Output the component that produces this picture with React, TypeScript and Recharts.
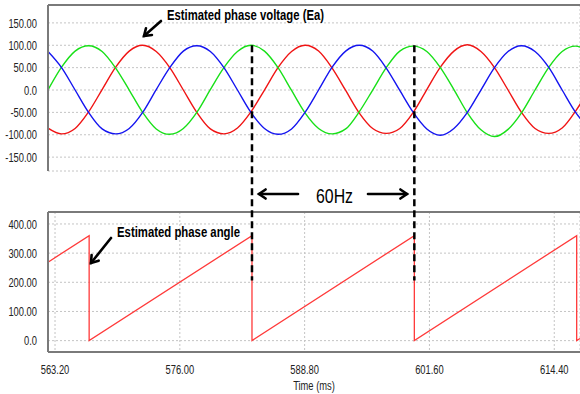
import React from "react";
import {
  LineChart,
  Line,
  CartesianGrid,
  XAxis,
  YAxis,
  ReferenceLine,
  Label,
} from "recharts";

// sample times (ms) for the three phase voltages
const timeMs = [
  562.48, 563.87, 565.26, 566.64, 568.03, 569.42, 570.81, 572.19, 573.58, 574.97,
  576.36, 577.74, 579.13, 580.52, 581.91, 583.29, 584.68, 586.07, 587.46, 588.84,
  590.23, 591.62, 593.01, 594.39, 595.78, 597.17, 598.56, 599.94, 601.33, 602.72,
  604.11, 605.49, 606.88, 608.27, 609.66, 611.04, 612.43, 613.82, 615.21, 616.59,
  617.98,
];

// red
const voltageA = [
  -85, -98, -86, -49, 1, 51, 87, 100, 86, 50, 0, -50,
  -87, -98, -85, -49, 0, 50, 86, 100, 87, 49, -1, -51,
  -86, -97, -86, -50, 1, 51, 87, 101, 86, 50, 0, -50,
  -86, -97, -85, -47, 2,
];

// blue
const voltageB = [
  86, 50, 0, -50, -87, -98, -86, -50, 1, 50, 87, 99,
  86, 50, 0, -50, -86, -99, -87, -50, 0, 51, 87, 100,
  87, 49, -1, -50, -87, -101, -86, -50, 0, 50, 86, 99,
  86, 51, 0, -50, -87,
];

// green
const voltageC = [
  0, 51, 87, 99, 86, 49, 0, -50, -87, -99, -86, -50,
  1, 50, 86, 100, 87, 50, -1, -51, -86, -98, -87, -49,
  0, 50, 87, 98, 86, 50, 1, -51, -89, -104, -88, -51,
  0, 50, 86, 98, 87,
];

// estimated phase angle (sawtooth)
const angleTime = [562.48, 566.7, 566.7, 583.4, 583.4, 600.05, 600.05, 616.7, 616.7, 617.04];
const angleDeg = [269, 360, 0, 360, 0, 360, 0, 360, 0, 7];

const xTicks = [563.2, 576, 588.8, 601.6, 614.4];
const voltTicks = [-150, -100, -50, 0, 50, 100, 150];
const angleTicks = [0, 100, 200, 300, 400];
const periodMarks = [583.4, 600.05];

const voltData = timeMs.map((t, i) => ({
  t,
  a: voltageA[i],
  b: voltageB[i],
  c: voltageC[i],
}));
const angleData = angleTime.map((t, i) => ({ t, deg: angleDeg[i] }));

const X_DOMAIN: [number, number] = [562.48, 617.04];
const FONT = "'Liberation Sans', Arial, sans-serif";
const SQUEEZE = 0.72;
const frame = { stroke: "#7a7a7a", strokeWidth: 2 };
const fmt = (v: number) => (v === 0 ? "0.0" : v.toFixed(2));

// condensed text, squeezed horizontally around its anchor
const Narrow = ({ x, y, anchor, dy, size = 13, children }: any) => (
  <text
    x={x}
    y={y}
    dy={dy}
    textAnchor={anchor}
    fontSize={size}
    fontFamily={FONT}
    fill="#222"
    transform={`translate(${x},0) scale(${SQUEEZE},1) translate(${-x},0)`}
  >
    {children}
  </text>
);

const YTick = ({ x, y, payload }: any) => (
  <Narrow x={x} y={y} anchor="end" dy="0.36em">
    {fmt(payload.value)}
  </Narrow>
);

const XTick = ({ x, y, payload }: any) => (
  <Narrow x={x} y={y} anchor="middle" dy="0.71em">
    {payload.value.toFixed(2)}
  </Narrow>
);

const Arrow = ({ x1, y1, x2, y2 }: { x1: number; y1: number; x2: number; y2: number }) => {
  const ang = Math.atan2(y2 - y1, x2 - x1);
  const h = 8;
  const p1 = [x2 - h * Math.cos(ang - 0.6), y2 - h * Math.sin(ang - 0.6)];
  const p2 = [x2 - h * Math.cos(ang + 0.6), y2 - h * Math.sin(ang + 0.6)];
  return (
    <g stroke="#000" strokeWidth={2.6} fill="none" strokeLinecap="round">
      <line x1={x1} y1={y1} x2={x2} y2={y2} />
      <polyline points={`${p1[0]},${p1[1]} ${x2},${y2} ${p2[0]},${p2[1]}`} />
    </g>
  );
};

const App = () => {
  return (
    <div style={{ position: "absolute", left: 0, top: 0, width: 580, height: 394, background: "#fff" }}>
      {/* lower panel: phase angle */}
      <div style={{ position: "absolute", left: 0, top: 0 }}>
        <LineChart width={580} height={394} data={angleData} margin={{ top: 212, right: 0, bottom: 0, left: 0 }}>
          <CartesianGrid stroke="#c4c4c4" strokeDasharray="2 2" />
          <XAxis
            dataKey="t"
            type="number"
            domain={X_DOMAIN}
            ticks={xTicks}
            interval={0}
            allowDataOverflow
            tick={<XTick />}
            tickLine={false}
            tickSize={6}
            tickMargin={7}
            axisLine={frame}
            height={42}
          >
            <Label
              position="insideBottom"
              content={({ viewBox }: any) => (
                <Narrow x={viewBox.x + viewBox.width / 2} y={viewBox.y + viewBox.height - 4} anchor="middle">
                  Time (ms)
                </Narrow>
              )}
            />
          </XAxis>
          <YAxis
            type="number"
            domain={[-39, 441]}
            ticks={angleTicks}
            interval={0}
            tick={<YTick />}
            tickLine={false}
            tickSize={6}
            tickMargin={5}
            axisLine={frame}
            width={48}
          />
          <ReferenceLine y={441} stroke="#7a7a7a" strokeWidth={2} />
          <Line
            type="linear"
            dataKey="deg"
            stroke="#ff3a3a"
            strokeWidth={1.3}
            dot={false}
            isAnimationActive={false}
          />
        </LineChart>
      </div>

      {/* upper panel: phase voltages */}
      <div style={{ position: "absolute", left: 0, top: 0 }}>
        <LineChart width={580} height={394} data={voltData} margin={{ top: 5, right: 0, bottom: 223, left: 0 }}>
          <CartesianGrid stroke="#c4c4c4" strokeDasharray="2 2" />
          <XAxis
            dataKey="t"
            type="number"
            domain={X_DOMAIN}
            ticks={xTicks}
            interval={0}
            allowDataOverflow
            tick={false}
            tickLine={false}
            axisLine={frame}
            height={0}
          />
          <YAxis
            type="number"
            domain={[-181, 190]}
            ticks={voltTicks}
            interval={0}
            tick={<YTick />}
            tickLine={false}
            tickSize={6}
            tickMargin={5}
            axisLine={frame}
            width={48}
          />
          <ReferenceLine y={190} stroke="#7a7a7a" strokeWidth={2} />
          <Line type="monotone" dataKey="a" stroke="#f01414" strokeWidth={1.4} dot={false} isAnimationActive={false} />
          <Line type="monotone" dataKey="c" stroke="#18e018" strokeWidth={1.4} dot={false} isAnimationActive={false} />
          <Line type="monotone" dataKey="b" stroke="#1414f0" strokeWidth={1.4} dot={false} isAnimationActive={false} />
          {periodMarks.map((t) => (
            <ReferenceLine
              key={t}
              segment={[
                { x: t, y: 100 },
                { x: t, y: -426 },
              ]}
              ifOverflow="visible"
              stroke="#000"
              strokeWidth={2.5}
              strokeDasharray="7 4"
            />
          ))}
        </LineChart>
      </div>

      {/* annotations */}
      <svg
        width={580}
        height={394}
        style={{ position: "absolute", left: 0, top: 0, pointerEvents: "none" }}
        fontFamily={FONT}
      >
        <text x={167} y={20} fontSize={15} fontWeight="bold" textLength={157} lengthAdjust="spacingAndGlyphs">
          Estimated phase voltage (Ea)
        </text>
        <Arrow x1={161} y1={21} x2={144} y2={36} />
        <text x={117} y={237} fontSize={15} fontWeight="bold" textLength={123} lengthAdjust="spacingAndGlyphs">
          Estimated phase angle
        </text>
        <Arrow x1={111} y1={238} x2={91} y2={263} />
        <text x={316} y={203} fontSize={21} textLength={37} lengthAdjust="spacingAndGlyphs">
          60Hz
        </text>
        <Arrow x1={298} y1={194} x2={259} y2={194} />
        <Arrow x1={368} y1={194} x2={407} y2={194} />
      </svg>
    </div>
  );
};

export default App;
